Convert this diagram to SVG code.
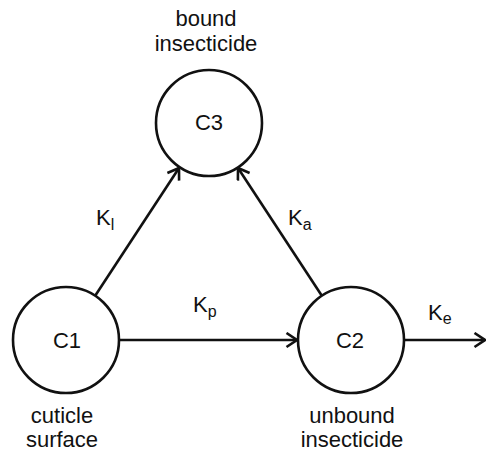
<svg xmlns="http://www.w3.org/2000/svg" width="486" height="454" viewBox="0 0 486 454">
  <defs>
    <style>
      .node circle { fill: #fff; stroke: #111; stroke-width: 2.6; }
      .lbl { font-family: "Liberation Sans", Arial, sans-serif; font-size: 22px; fill: #111; text-anchor: middle; }
      .k { font-family: "Liberation Sans", Arial, sans-serif; font-size: 22px; fill: #111; }
      .k tspan.sub { font-size: 16px; }
      .edge { fill: none; stroke: #111; stroke-width: 2.6; marker-end: url(#arrow); }
    </style>
    <marker id="arrow" markerUnits="userSpaceOnUse" markerWidth="14" markerHeight="18" viewBox="-1 -1 13 18" refX="10.5" refY="7" orient="auto">
      <path d="M0,0 L10.5,7 L0,14" fill="none" stroke="#111" stroke-width="2.6" stroke-linejoin="miter"/>
    </marker>
  </defs>

  <!-- rate connectors -->
  <g id="connectors">
    <line class="edge" x1="95" y1="296" x2="179" y2="168"/>
    <line class="edge" x1="322" y1="296" x2="238" y2="168"/>
    <line class="edge" x1="119" y1="340" x2="297" y2="340"/>
    <line class="edge" x1="404" y1="340" x2="485" y2="340"/>
    <text class="k" x="96" y="225">K<tspan class="sub" dy="5">l</tspan></text>
    <text class="k" x="288" y="225">K<tspan class="sub" dy="5">a</tspan></text>
    <text class="k" x="193" y="312">K<tspan class="sub" dy="5">p</tspan></text>
    <text class="k" x="428" y="320">K<tspan class="sub" dy="4">e</tspan></text>
  </g>

  <!-- compartments -->
  <g id="C3" class="node">
    <circle cx="209" cy="123" r="53"/>
    <text class="lbl" x="209" y="130">C3</text>
    <text class="lbl" x="206" y="26">bound</text>
    <text class="lbl" x="206" y="51">insecticide</text>
  </g>
  <g id="C1" class="node">
    <circle cx="66" cy="340" r="53"/>
    <text class="lbl" x="67" y="348">C1</text>
    <text class="lbl" x="62" y="423">cuticle</text>
    <text class="lbl" x="62" y="447">surface</text>
  </g>
  <g id="C2" class="node">
    <circle cx="351" cy="340" r="53"/>
    <text class="lbl" x="350" y="348">C2</text>
    <text class="lbl" x="352" y="423">unbound</text>
    <text class="lbl" x="352" y="447">insecticide</text>
  </g>
</svg>
